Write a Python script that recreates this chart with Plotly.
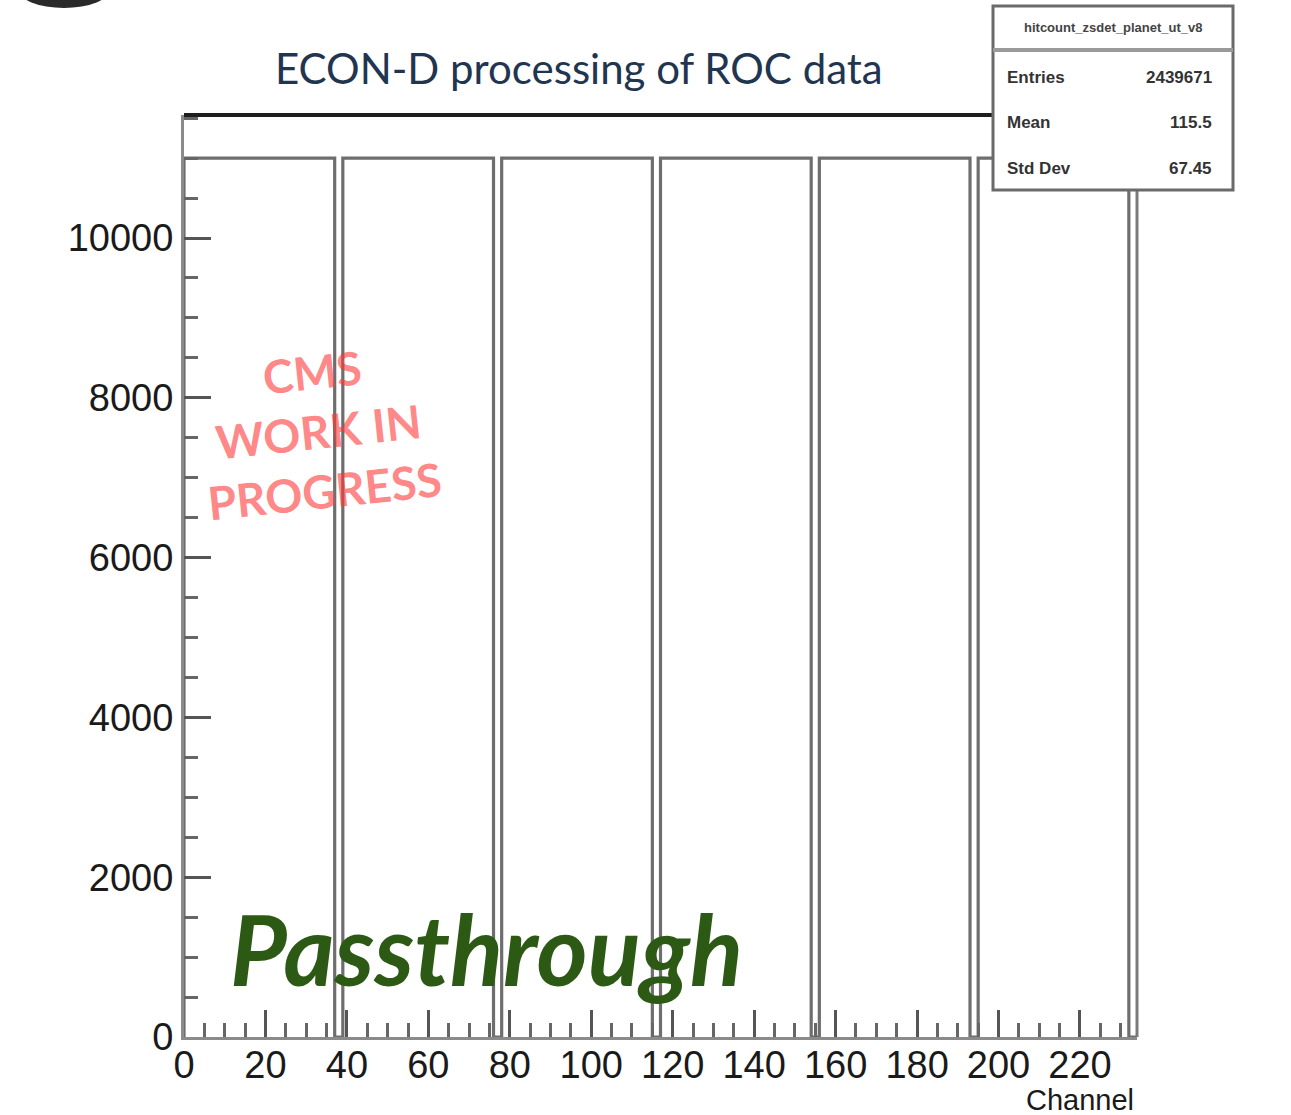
import plotly.graph_objects as go

# ---- histogram content: 6 ROC halves of 39 channels each ----
n_blocks = 6
block_counts = [11000] * 37 + [0, 0]      # 37 filled channels, 2 empty
counts = block_counts * n_blocks          # per-channel entries
x_min, x_max = 0, len(counts)             # 0 .. 234
y_max = 11540

x_ticks = [0, 20, 40, 60, 80, 100, 120, 140, 160, 180, 200, 220]
y_ticks = [0, 2000, 4000, 6000, 8000, 10000]

stats_name = "hitcount_zsdet_planet_ut_v8"
stats_rows = [("Entries", "2439671"), ("Mean", "115.5"), ("Std Dev", "67.45")]

title_text = "ECON-D processing of ROC data"
wip_text = "CMS<br>WORK IN<br>PROGRESS"
mode_text = "Passthrough"

# ---- page geometry (pixels) ----
W, H = 1291, 1115
L, R, T, B = 184, 1137, 115, 1037


def px(x):
    return (x - L) / (R - L)


def py(y):
    return (B - y) / (B - T)


# step outline in ROOT style
edges = list(range(x_min, x_max + 1))
xs = [x_min] + edges
ys = [0] + counts + [counts[-1]]

fig = go.Figure()
fig.add_trace(go.Scatter(
    x=xs, y=ys, mode="lines", line_shape="hv",
    line=dict(color="#6e6e6e", width=3.2),
    hoverinfo="skip", showlegend=False,
))

tick_font = dict(family="Liberation Sans, Arial, sans-serif", size=38, color="#1a1a1a")

fig.update_layout(
    width=W, height=H,
    margin=dict(l=L, r=W - R, t=T, b=H - B, pad=0),
    paper_bgcolor="white", plot_bgcolor="white",
    showlegend=False,
    xaxis=dict(
        range=[x_min, x_max], tickvals=x_ticks, ticktext=[str(v) for v in x_ticks],
        ticks="inside", ticklen=27, tickwidth=2.5, tickcolor="#555",
        minor=dict(ticks="inside", ticklen=14, tickwidth=2.5, tickcolor="#666", dtick=5, tick0=0, showgrid=False),
        showline=True, linecolor="#8a8a8a", linewidth=3,
        showgrid=False, zeroline=False, tickfont=tick_font,
        ticklabelstandoff=-8,
    ),
    yaxis=dict(
        range=[0, y_max], tickvals=y_ticks, ticktext=[str(v) for v in y_ticks],
        ticks="inside", ticklen=27, tickwidth=2.5, tickcolor="#555",
        minor=dict(ticks="inside", ticklen=14, tickwidth=2.5, tickcolor="#666", dtick=500, tick0=0, showgrid=False),
        showline=True, linecolor="#8a8a8a", linewidth=3,
        showgrid=False, zeroline=False, tickfont=tick_font,
    ),
)

shapes = [
    # frame: dark top edge and right edge
    dict(type="line", xref="paper", yref="paper", x0=0, x1=1, y0=1, y1=1,
         line=dict(color="#1e1e1e", width=4)),
    dict(type="line", xref="paper", yref="paper", x0=1, x1=1, y0=0, y1=1,
         line=dict(color="#7a7a7a", width=3)),
    # statistics box
    dict(type="rect", xref="paper", yref="paper",
         x0=px(993), x1=px(1233), y0=py(190), y1=py(6),
         fillcolor="white", line=dict(color="#6a6a6a", width=3)),
    dict(type="line", xref="paper", yref="paper",
         x0=px(993), x1=px(1233), y0=py(50), y1=py(50),
         line=dict(color="#9a9a9a", width=4)),
    # partial logo at the upper-left corner
    dict(type="circle", xref="paper", yref="paper",
         x0=px(18), x1=px(110), y0=py(8), y1=py(-30),
         fillcolor="#2a2a2a", line=dict(width=0)),
]
fig.update_layout(shapes=shapes)

ann = []
ann.append(dict(text=title_text, xref="paper", yref="paper", x=px(579), y=py(68),
                xanchor="center", yanchor="middle", showarrow=False,
                font=dict(family="Lato, Open Sans, sans-serif", size=42, color="#1f3550")))
ann.append(dict(text="Channel", xref="paper", yref="paper", x=px(1136), y=py(1082),
                xanchor="right", yanchor="top", showarrow=False,
                font=dict(family="Liberation Sans, Arial, sans-serif", size=29, color="#1a1a1a")))
ann.append(dict(text=mode_text, xref="paper", yref="paper", x=px(228), y=py(948),
                xanchor="left", yanchor="middle", showarrow=False,
                font=dict(family="Lato, sans-serif", size=98, color="#2c5a14",
                          weight="bold", style="italic")))
ann.append(dict(text=wip_text, xref="paper", yref="paper", x=px(318), y=py(431),
                xanchor="center", yanchor="middle", showarrow=False, textangle=-6,
                align="center",
                font=dict(family="Lato, sans-serif", size=46, color="rgba(255,55,55,0.62)",
                          weight="bold")))
# statistics box text
ann.append(dict(text=stats_name, xref="paper", yref="paper", x=px(1113), y=py(28),
                xanchor="center", yanchor="middle", showarrow=False,
                font=dict(family="Liberation Sans, Arial, sans-serif", size=13,
                          color="#444", weight="bold")))
for i, (label, value) in enumerate(stats_rows):
    yy = py(77 + i * 46)
    ann.append(dict(text=label, xref="paper", yref="paper", x=px(1005), y=yy,
                    xanchor="left", yanchor="middle", showarrow=False,
                    font=dict(family="Liberation Sans, Arial, sans-serif", size=17,
                              color="#333", weight="bold")))
    ann.append(dict(text=value, xref="paper", yref="paper", x=px(1214), y=yy,
                    xanchor="right", yanchor="middle", showarrow=False,
                    font=dict(family="Liberation Sans, Arial, sans-serif", size=17,
                              color="#333", weight="bold")))
fig.update_layout(annotations=ann)

fig.write_html("out.html")
